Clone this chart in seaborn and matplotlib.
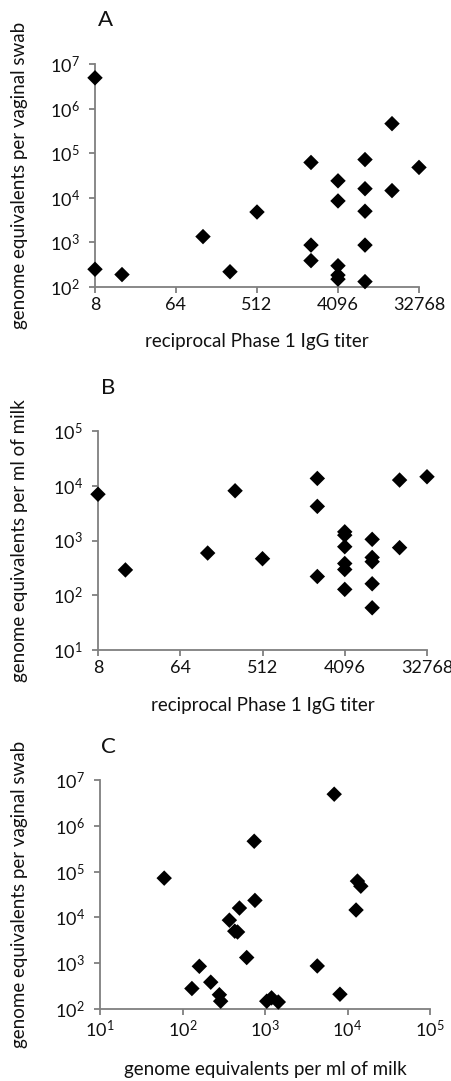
import matplotlib
matplotlib.use("Agg")
import matplotlib.pyplot as plt
import seaborn as sns
import numpy as np
import pandas as pd

# Panel A: titer vs vaginal swab
titer_a = [8, 8, 16, 128, 256, 512, 2048, 2048, 2048, 4096, 4096, 4096, 4096, 4096,
           8192, 8192, 8192, 8192, 8192, 16384, 16384, 32768]
swab_a = [4.9e6, 250, 190, 1350, 220, 4800, 6.2e4, 870, 390, 2.4e4, 8500, 300, 185, 150,
          7.2e4, 1.6e4, 5000, 870, 132, 4.6e5, 1.45e4, 4.8e4]

# Panel B: titer vs milk
titer_b = [8, 16, 128, 256, 512, 2048, 2048, 2048, 4096, 4096, 4096, 4096, 4096, 4096,
           8192, 8192, 8192, 8192, 8192, 16384, 16384, 32768]
milk_b = [7000, 290, 590, 8100, 465, 13600, 4200, 220, 1440, 1250, 770, 380, 295, 128,
          1050, 490, 410, 162, 59, 12700, 740, 14600]

# Panel C: milk vs vaginal swab
milk_c = [6900, 740, 60, 13200, 14500, 755, 12700, 490, 370, 430, 465, 600, 160, 4300,
          220, 130, 280, 290, 8100, 1050, 1200, 1450]
swab_c = [4.9e6, 4.6e5, 7.2e4, 6.2e4, 4.8e4, 2.35e4, 1.45e4, 1.6e4, 8700, 5000, 4800, 1330,
          855, 870, 385, 280, 205, 148, 210, 148, 175, 142]

titer_ticks = [8, 64, 512, 4096, 32768]

sns.set_theme(style="ticks")
plt.rcParams['font.family'] = ['Lato', 'DejaVu Sans']
plt.rcParams['mathtext.fontset'] = 'custom'
plt.rcParams['mathtext.rm'] = 'Lato'
plt.rcParams['mathtext.it'] = 'Lato'

W, H = 451, 1081
fig = plt.figure(figsize=(W / 100, H / 100), dpi=100)

def px_axes(l, t, r, b):
    return fig.add_axes([l / W, 1 - b / H, (r - l) / W, (b - t) / H])

axA = px_axes(95, 64, 419, 287)
axB = px_axes(98, 431, 427, 650)
axC = px_axes(100, 780, 430, 1009)

spine_col = '#7f7f7f'
tick_fs = 13
lab_fs = 13.5

def style(ax):
    for s in ['top', 'right']:
        ax.spines[s].set_visible(False)
    for s in ['left', 'bottom']:
        ax.spines[s].set_color(spine_col)
        ax.spines[s].set_linewidth(1.3)
    ax.tick_params(which='major', direction='out', length=4, width=1.3, color=spine_col,
                   labelsize=tick_fs, labelcolor='#111111')
    ax.tick_params(axis='y', pad=7)
    ax.tick_params(axis='x', pad=3)
    ax.minorticks_off()
    ax.tick_params(which='minor', length=0)
    ax.grid(False)

def pow_labels(exps):
    return [r'$10^{%d}$' % e for e in exps]

def scatter(ax, x, y):
    df = pd.DataFrame({'x': x, 'y': y})
    sns.scatterplot(data=df, x='x', y='y', ax=ax, marker='D', color='black',
                    s=62, edgecolor='none', linewidth=0, clip_on=False, zorder=5)

# A
scatter(axA, titer_a, swab_a)
axA.set_xscale('log', base=2)
axA.set_yscale('log')
axA.set_xlim(8, 32768)
axA.set_ylim(1e2, 1e7)
axA.set_xticks(titer_ticks)
axA.set_xticklabels([str(t) for t in titer_ticks])
axA.set_yticks([10.0 ** e for e in range(2, 8)])
axA.set_yticklabels(pow_labels(range(2, 8)))
style(axA)

# B
scatter(axB, titer_b, milk_b)
axB.set_xscale('log', base=2)
axB.set_yscale('log')
axB.set_xlim(8, 32768)
axB.set_ylim(1e1, 1e5)
axB.set_xticks(titer_ticks)
axB.set_xticklabels([str(t) for t in titer_ticks])
axB.set_yticks([10.0 ** e for e in range(1, 6)])
axB.set_yticklabels(pow_labels(range(1, 6)))
style(axB)

# C
scatter(axC, milk_c, swab_c)
axC.set_xscale('log')
axC.set_yscale('log')
axC.set_xlim(1e1, 1e5)
axC.set_ylim(1e2, 1e7)
axC.set_xticks([10.0 ** e for e in range(1, 6)])
axC.set_xticklabels(pow_labels(range(1, 6)))
axC.set_yticks([10.0 ** e for e in range(2, 8)])
axC.set_yticklabels(pow_labels(range(2, 8)))
style(axC)

labels = [
    (axA, 'reciprocal Phase 1 IgG titer', 'genome equivalents per vaginal swab', 'A', 342, 20, (105, 20)),
    (axB, 'reciprocal Phase 1 IgG titer', 'genome equivalents per ml of milk', 'B', 705, 20, (108, 388)),
    (axC, 'genome equivalents per ml of milk', 'genome equivalents per vaginal swab', 'C', 1070, 20, (108, 747)),
]
for ax, xl, yl, letter, xl_y, yl_x, lp in labels:
    ax.set_xlabel('')
    ax.set_ylabel('')
    bb = ax.get_position()
    cx = (bb.x0 + bb.x1) / 2
    cy = (bb.y0 + bb.y1) / 2
    fig.text(cx, 1 - xl_y / H, xl, ha='center', va='center', fontsize=lab_fs, color='#111111')
    fig.text(yl_x / W, cy, yl, ha='center', va='center', rotation=90, fontsize=lab_fs, color='#111111')
    fig.text(lp[0] / W, 1 - lp[1] / H, letter, ha='center', va='center', fontsize=16, color='#111111')

fig.savefig('out.png', dpi=100)
